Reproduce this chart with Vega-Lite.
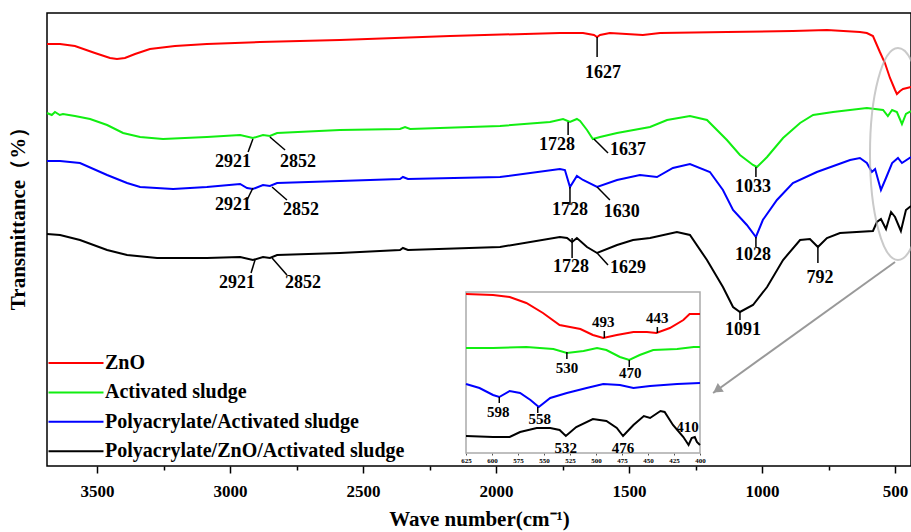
{
  "$schema": "https://vega.github.io/schema/vega-lite/v6.json",
  "width": 864,
  "height": 453,
  "autosize": {"type": "none"},
  "padding": {"left": 47, "top": 13, "right": 0, "bottom": 66},
  "background": "white",
  "config": {
    "view": {"stroke": "#000", "strokeWidth": 1.5},
    "font": "Liberation Serif",
    "axis": {"grid": false}
  },
  "datasets": {
    "spectra": [
      {"s": "ZnO", "w": 3688, "t": 422}, {"s": "ZnO", "w": 3639, "t": 422}, {"s": "ZnO", "w": 3583, "t": 420}, {"s": "ZnO", "w": 3508, "t": 413}, {"s": "ZnO", "w": 3451, "t": 408}, {"s": "ZnO", "w": 3425, "t": 407}, {"s": "ZnO", "w": 3395, "t": 408}, {"s": "ZnO", "w": 3357, "t": 412}, {"s": "ZnO", "w": 3301, "t": 417}, {"s": "ZnO", "w": 3207, "t": 420}, {"s": "ZnO", "w": 3087, "t": 422}, {"s": "ZnO", "w": 2887, "t": 424}, {"s": "ZnO", "w": 2587, "t": 426}, {"s": "ZnO", "w": 2173, "t": 430}, {"s": "ZnO", "w": 1760, "t": 433}, {"s": "ZnO", "w": 1673, "t": 433}, {"s": "ZnO", "w": 1632, "t": 431}, {"s": "ZnO", "w": 1620, "t": 429}, {"s": "ZnO", "w": 1609, "t": 431}, {"s": "ZnO", "w": 1572, "t": 433}, {"s": "ZnO", "w": 1448, "t": 431}, {"s": "ZnO", "w": 1383, "t": 433}, {"s": "ZnO", "w": 1132, "t": 434}, {"s": "ZnO", "w": 884, "t": 435}, {"s": "ZnO", "w": 756, "t": 436}, {"s": "ZnO", "w": 632, "t": 434}, {"s": "ZnO", "w": 606, "t": 433}, {"s": "ZnO", "w": 583, "t": 430}, {"s": "ZnO", "w": 557, "t": 414}, {"s": "ZnO", "w": 538, "t": 403}, {"s": "ZnO", "w": 519, "t": 388}, {"s": "ZnO", "w": 500, "t": 376}, {"s": "ZnO", "w": 493, "t": 372}, {"s": "ZnO", "w": 481, "t": 375}, {"s": "ZnO", "w": 470, "t": 377}, {"s": "ZnO", "w": 455, "t": 378}, {"s": "ZnO", "w": 440, "t": 379},

      {"s": "Activated sludge", "w": 3688, "t": 353}, {"s": "Activated sludge", "w": 3670, "t": 351}, {"s": "Activated sludge", "w": 3658, "t": 354}, {"s": "Activated sludge", "w": 3640, "t": 351}, {"s": "Activated sludge", "w": 3628, "t": 352}, {"s": "Activated sludge", "w": 3583, "t": 350}, {"s": "Activated sludge", "w": 3526, "t": 347}, {"s": "Activated sludge", "w": 3462, "t": 341}, {"s": "Activated sludge", "w": 3402, "t": 333}, {"s": "Activated sludge", "w": 3338, "t": 329}, {"s": "Activated sludge", "w": 3252, "t": 327}, {"s": "Activated sludge", "w": 3087, "t": 329}, {"s": "Activated sludge", "w": 2962, "t": 331}, {"s": "Activated sludge", "w": 2914, "t": 328}, {"s": "Activated sludge", "w": 2876, "t": 331}, {"s": "Activated sludge", "w": 2850, "t": 330}, {"s": "Activated sludge", "w": 2823, "t": 333}, {"s": "Activated sludge", "w": 2587, "t": 336}, {"s": "Activated sludge", "w": 2361, "t": 337}, {"s": "Activated sludge", "w": 2342, "t": 339}, {"s": "Activated sludge", "w": 2323, "t": 337}, {"s": "Activated sludge", "w": 1985, "t": 340}, {"s": "Activated sludge", "w": 1797, "t": 344}, {"s": "Activated sludge", "w": 1748, "t": 347}, {"s": "Activated sludge", "w": 1722, "t": 344}, {"s": "Activated sludge", "w": 1696, "t": 347}, {"s": "Activated sludge", "w": 1684, "t": 345}, {"s": "Activated sludge", "w": 1658, "t": 336}, {"s": "Activated sludge", "w": 1636, "t": 327}, {"s": "Activated sludge", "w": 1609, "t": 329}, {"s": "Activated sludge", "w": 1545, "t": 333}, {"s": "Activated sludge", "w": 1421, "t": 339}, {"s": "Activated sludge", "w": 1357, "t": 346}, {"s": "Activated sludge", "w": 1271, "t": 350}, {"s": "Activated sludge", "w": 1207, "t": 346}, {"s": "Activated sludge", "w": 1132, "t": 326}, {"s": "Activated sludge", "w": 1083, "t": 311}, {"s": "Activated sludge", "w": 1034, "t": 301}, {"s": "Activated sludge", "w": 1019, "t": 299}, {"s": "Activated sludge", "w": 981, "t": 309}, {"s": "Activated sludge", "w": 921, "t": 328}, {"s": "Activated sludge", "w": 857, "t": 343}, {"s": "Activated sludge", "w": 808, "t": 351}, {"s": "Activated sludge", "w": 733, "t": 354}, {"s": "Activated sludge", "w": 606, "t": 358}, {"s": "Activated sludge", "w": 545, "t": 356}, {"s": "Activated sludge", "w": 527, "t": 350}, {"s": "Activated sludge", "w": 511, "t": 356}, {"s": "Activated sludge", "w": 493, "t": 354}, {"s": "Activated sludge", "w": 474, "t": 342}, {"s": "Activated sludge", "w": 459, "t": 352}, {"s": "Activated sludge", "w": 440, "t": 355},

      {"s": "Polyacrylate/Activated sludge", "w": 3688, "t": 305}, {"s": "Polyacrylate/Activated sludge", "w": 3639, "t": 305}, {"s": "Polyacrylate/Activated sludge", "w": 3564, "t": 303}, {"s": "Polyacrylate/Activated sludge", "w": 3462, "t": 291}, {"s": "Polyacrylate/Activated sludge", "w": 3387, "t": 283}, {"s": "Polyacrylate/Activated sludge", "w": 3338, "t": 279}, {"s": "Polyacrylate/Activated sludge", "w": 3214, "t": 277}, {"s": "Polyacrylate/Activated sludge", "w": 3087, "t": 279}, {"s": "Polyacrylate/Activated sludge", "w": 2962, "t": 282}, {"s": "Polyacrylate/Activated sludge", "w": 2936, "t": 278}, {"s": "Polyacrylate/Activated sludge", "w": 2914, "t": 277}, {"s": "Polyacrylate/Activated sludge", "w": 2876, "t": 281}, {"s": "Polyacrylate/Activated sludge", "w": 2850, "t": 280}, {"s": "Polyacrylate/Activated sludge", "w": 2823, "t": 283}, {"s": "Polyacrylate/Activated sludge", "w": 2587, "t": 285}, {"s": "Polyacrylate/Activated sludge", "w": 2361, "t": 287}, {"s": "Polyacrylate/Activated sludge", "w": 2350, "t": 289}, {"s": "Polyacrylate/Activated sludge", "w": 2331, "t": 287}, {"s": "Polyacrylate/Activated sludge", "w": 1985, "t": 289}, {"s": "Polyacrylate/Activated sludge", "w": 1760, "t": 297}, {"s": "Polyacrylate/Activated sludge", "w": 1741, "t": 296}, {"s": "Polyacrylate/Activated sludge", "w": 1722, "t": 279}, {"s": "Polyacrylate/Activated sludge", "w": 1696, "t": 290}, {"s": "Polyacrylate/Activated sludge", "w": 1673, "t": 286}, {"s": "Polyacrylate/Activated sludge", "w": 1620, "t": 279}, {"s": "Polyacrylate/Activated sludge", "w": 1545, "t": 286}, {"s": "Polyacrylate/Activated sludge", "w": 1459, "t": 291}, {"s": "Polyacrylate/Activated sludge", "w": 1395, "t": 289}, {"s": "Polyacrylate/Activated sludge", "w": 1335, "t": 298}, {"s": "Polyacrylate/Activated sludge", "w": 1271, "t": 302}, {"s": "Polyacrylate/Activated sludge", "w": 1196, "t": 294}, {"s": "Polyacrylate/Activated sludge", "w": 1147, "t": 276}, {"s": "Polyacrylate/Activated sludge", "w": 1109, "t": 256}, {"s": "Polyacrylate/Activated sludge", "w": 1057, "t": 241}, {"s": "Polyacrylate/Activated sludge", "w": 1023, "t": 229}, {"s": "Polyacrylate/Activated sludge", "w": 997, "t": 246}, {"s": "Polyacrylate/Activated sludge", "w": 944, "t": 266}, {"s": "Polyacrylate/Activated sludge", "w": 884, "t": 283}, {"s": "Polyacrylate/Activated sludge", "w": 794, "t": 294}, {"s": "Polyacrylate/Activated sludge", "w": 669, "t": 306}, {"s": "Polyacrylate/Activated sludge", "w": 632, "t": 308}, {"s": "Polyacrylate/Activated sludge", "w": 606, "t": 303}, {"s": "Polyacrylate/Activated sludge", "w": 587, "t": 294}, {"s": "Polyacrylate/Activated sludge", "w": 575, "t": 297}, {"s": "Polyacrylate/Activated sludge", "w": 553, "t": 276}, {"s": "Polyacrylate/Activated sludge", "w": 534, "t": 288}, {"s": "Polyacrylate/Activated sludge", "w": 511, "t": 303}, {"s": "Polyacrylate/Activated sludge", "w": 489, "t": 308}, {"s": "Polyacrylate/Activated sludge", "w": 474, "t": 303}, {"s": "Polyacrylate/Activated sludge", "w": 440, "t": 309},

      {"s": "Polyacrylate/ZnO/Activated sludge", "w": 3688, "t": 232}, {"s": "Polyacrylate/ZnO/Activated sludge", "w": 3639, "t": 231}, {"s": "Polyacrylate/ZnO/Activated sludge", "w": 3564, "t": 226}, {"s": "Polyacrylate/ZnO/Activated sludge", "w": 3462, "t": 216}, {"s": "Polyacrylate/ZnO/Activated sludge", "w": 3387, "t": 211}, {"s": "Polyacrylate/ZnO/Activated sludge", "w": 3274, "t": 208}, {"s": "Polyacrylate/ZnO/Activated sludge", "w": 3087, "t": 208}, {"s": "Polyacrylate/ZnO/Activated sludge", "w": 2962, "t": 209}, {"s": "Polyacrylate/ZnO/Activated sludge", "w": 2914, "t": 206}, {"s": "Polyacrylate/ZnO/Activated sludge", "w": 2876, "t": 209}, {"s": "Polyacrylate/ZnO/Activated sludge", "w": 2850, "t": 208}, {"s": "Polyacrylate/ZnO/Activated sludge", "w": 2823, "t": 211}, {"s": "Polyacrylate/ZnO/Activated sludge", "w": 2587, "t": 213}, {"s": "Polyacrylate/ZnO/Activated sludge", "w": 2361, "t": 216}, {"s": "Polyacrylate/ZnO/Activated sludge", "w": 2350, "t": 218}, {"s": "Polyacrylate/ZnO/Activated sludge", "w": 2331, "t": 216}, {"s": "Polyacrylate/ZnO/Activated sludge", "w": 1985, "t": 219}, {"s": "Polyacrylate/ZnO/Activated sludge", "w": 1760, "t": 229}, {"s": "Polyacrylate/ZnO/Activated sludge", "w": 1733, "t": 228}, {"s": "Polyacrylate/ZnO/Activated sludge", "w": 1714, "t": 224}, {"s": "Polyacrylate/ZnO/Activated sludge", "w": 1696, "t": 228}, {"s": "Polyacrylate/ZnO/Activated sludge", "w": 1658, "t": 219}, {"s": "Polyacrylate/ZnO/Activated sludge", "w": 1620, "t": 213}, {"s": "Polyacrylate/ZnO/Activated sludge", "w": 1545, "t": 221}, {"s": "Polyacrylate/ZnO/Activated sludge", "w": 1485, "t": 226}, {"s": "Polyacrylate/ZnO/Activated sludge", "w": 1421, "t": 228}, {"s": "Polyacrylate/ZnO/Activated sludge", "w": 1320, "t": 234}, {"s": "Polyacrylate/ZnO/Activated sludge", "w": 1271, "t": 231}, {"s": "Polyacrylate/ZnO/Activated sludge", "w": 1207, "t": 206}, {"s": "Polyacrylate/ZnO/Activated sludge", "w": 1147, "t": 179}, {"s": "Polyacrylate/ZnO/Activated sludge", "w": 1109, "t": 159}, {"s": "Polyacrylate/ZnO/Activated sludge", "w": 1083, "t": 154}, {"s": "Polyacrylate/ZnO/Activated sludge", "w": 1034, "t": 161}, {"s": "Polyacrylate/ZnO/Activated sludge", "w": 981, "t": 179}, {"s": "Polyacrylate/ZnO/Activated sludge", "w": 921, "t": 206}, {"s": "Polyacrylate/ZnO/Activated sludge", "w": 857, "t": 226}, {"s": "Polyacrylate/ZnO/Activated sludge", "w": 820, "t": 227}, {"s": "Polyacrylate/ZnO/Activated sludge", "w": 790, "t": 219}, {"s": "Polyacrylate/ZnO/Activated sludge", "w": 756, "t": 228}, {"s": "Polyacrylate/ZnO/Activated sludge", "w": 707, "t": 233}, {"s": "Polyacrylate/ZnO/Activated sludge", "w": 583, "t": 235}, {"s": "Polyacrylate/ZnO/Activated sludge", "w": 568, "t": 244}, {"s": "Polyacrylate/ZnO/Activated sludge", "w": 553, "t": 247}, {"s": "Polyacrylate/ZnO/Activated sludge", "w": 534, "t": 237}, {"s": "Polyacrylate/ZnO/Activated sludge", "w": 515, "t": 254}, {"s": "Polyacrylate/ZnO/Activated sludge", "w": 500, "t": 249}, {"s": "Polyacrylate/ZnO/Activated sludge", "w": 478, "t": 235}, {"s": "Polyacrylate/ZnO/Activated sludge", "w": 459, "t": 256}, {"s": "Polyacrylate/ZnO/Activated sludge", "w": 440, "t": 260}
    ],
    "ticks": [
      {"w": 1620, "t": 429, "w2": 1620, "t2": 409},
      {"w": 2914, "t": 327, "w2": 2932, "t2": 314},
      {"w": 2850, "t": 329, "w2": 2793, "t2": 316},
      {"w": 2914, "t": 278, "w2": 2936, "t2": 266},
      {"w": 2842, "t": 279, "w2": 2786, "t2": 266},
      {"w": 2906, "t": 206, "w2": 2921, "t2": 193},
      {"w": 2842, "t": 208, "w2": 2786, "t2": 191},
      {"w": 1729, "t": 344, "w2": 1729, "t2": 331},
      {"w": 1632, "t": 327, "w2": 1579, "t2": 313},
      {"w": 1722, "t": 279, "w2": 1722, "t2": 261},
      {"w": 1620, "t": 279, "w2": 1572, "t2": 266},
      {"w": 1714, "t": 228, "w2": 1714, "t2": 208},
      {"w": 1620, "t": 213, "w2": 1579, "t2": 201},
      {"w": 1023, "t": 299, "w2": 1023, "t2": 289},
      {"w": 1023, "t": 229, "w2": 1023, "t2": 219},
      {"w": 790, "t": 219, "w2": 790, "t2": 203},
      {"w": 1083, "t": 154, "w2": 1083, "t2": 146}
    ],
    "labels": [
      {"w": 1598, "t": 393, "label": "1627"},
      {"w": 2989, "t": 304, "label": "2921"},
      {"w": 2744, "t": 304, "label": "2852"},
      {"w": 2989, "t": 261, "label": "2921"},
      {"w": 2733, "t": 256, "label": "2852"},
      {"w": 2974, "t": 183, "label": "2921"},
      {"w": 2726, "t": 183, "label": "2852"},
      {"w": 1771, "t": 321, "label": "1728"},
      {"w": 1504, "t": 316, "label": "1637"},
      {"w": 1722, "t": 256, "label": "1728"},
      {"w": 1527, "t": 254, "label": "1630"},
      {"w": 1718, "t": 199, "label": "1728"},
      {"w": 1504, "t": 198, "label": "1629"},
      {"w": 1034, "t": 279, "label": "1033"},
      {"w": 1034, "t": 211, "label": "1028"},
      {"w": 782, "t": 188, "label": "792"},
      {"w": 1072, "t": 136, "label": "1091"}
    ],
    "ellipse": [{"w": 489, "t": 312}],
    "arrow": [{"w": 500, "t": 204, "w2": 1184, "t2": 73}],
    "arrowhead": [{"w": 1169, "t": 76}],
    "inset": [
      {"s": "ZnO", "w": 625, "t": 172}, {"s": "ZnO", "w": 599, "t": 171}, {"s": "ZnO", "w": 583, "t": 169}, {"s": "ZnO", "w": 567, "t": 163}, {"s": "ZnO", "w": 551, "t": 153}, {"s": "ZnO", "w": 535, "t": 141}, {"s": "ZnO", "w": 525, "t": 139}, {"s": "ZnO", "w": 515, "t": 137}, {"s": "ZnO", "w": 503, "t": 131}, {"s": "ZnO", "w": 493, "t": 128}, {"s": "ZnO", "w": 480, "t": 131}, {"s": "ZnO", "w": 464, "t": 134}, {"s": "ZnO", "w": 451, "t": 134}, {"s": "ZnO", "w": 442, "t": 133}, {"s": "ZnO", "w": 429, "t": 138}, {"s": "ZnO", "w": 416, "t": 146}, {"s": "ZnO", "w": 410, "t": 152}, {"s": "ZnO", "w": 400, "t": 152},
      {"s": "Activated sludge", "w": 625, "t": 118}, {"s": "Activated sludge", "w": 599, "t": 118}, {"s": "Activated sludge", "w": 567, "t": 119}, {"s": "Activated sludge", "w": 541, "t": 117}, {"s": "Activated sludge", "w": 528, "t": 113}, {"s": "Activated sludge", "w": 512, "t": 115}, {"s": "Activated sludge", "w": 499, "t": 118}, {"s": "Activated sludge", "w": 490, "t": 116}, {"s": "Activated sludge", "w": 477, "t": 109}, {"s": "Activated sludge", "w": 468, "t": 106}, {"s": "Activated sludge", "w": 458, "t": 111}, {"s": "Activated sludge", "w": 445, "t": 116}, {"s": "Activated sludge", "w": 422, "t": 117}, {"s": "Activated sludge", "w": 406, "t": 119}, {"s": "Activated sludge", "w": 400, "t": 119},
      {"s": "Polyacrylate/Activated sludge", "w": 625, "t": 82}, {"s": "Polyacrylate/Activated sludge", "w": 612, "t": 78}, {"s": "Polyacrylate/Activated sludge", "w": 599, "t": 71}, {"s": "Polyacrylate/Activated sludge", "w": 593, "t": 69}, {"s": "Polyacrylate/Activated sludge", "w": 583, "t": 75}, {"s": "Polyacrylate/Activated sludge", "w": 573, "t": 73}, {"s": "Polyacrylate/Activated sludge", "w": 563, "t": 66}, {"s": "Polyacrylate/Activated sludge", "w": 555, "t": 59}, {"s": "Polyacrylate/Activated sludge", "w": 544, "t": 68}, {"s": "Polyacrylate/Activated sludge", "w": 528, "t": 73}, {"s": "Polyacrylate/Activated sludge", "w": 509, "t": 78}, {"s": "Polyacrylate/Activated sludge", "w": 493, "t": 82}, {"s": "Polyacrylate/Activated sludge", "w": 477, "t": 81}, {"s": "Polyacrylate/Activated sludge", "w": 464, "t": 78}, {"s": "Polyacrylate/Activated sludge", "w": 448, "t": 80}, {"s": "Polyacrylate/Activated sludge", "w": 422, "t": 82}, {"s": "Polyacrylate/Activated sludge", "w": 400, "t": 83},
      {"s": "Polyacrylate/ZnO/Activated sludge", "w": 625, "t": 30}, {"s": "Polyacrylate/ZnO/Activated sludge", "w": 599, "t": 29}, {"s": "Polyacrylate/ZnO/Activated sludge", "w": 583, "t": 29}, {"s": "Polyacrylate/ZnO/Activated sludge", "w": 573, "t": 34}, {"s": "Polyacrylate/ZnO/Activated sludge", "w": 557, "t": 38}, {"s": "Polyacrylate/ZnO/Activated sludge", "w": 544, "t": 38}, {"s": "Polyacrylate/ZnO/Activated sludge", "w": 535, "t": 36}, {"s": "Polyacrylate/ZnO/Activated sludge", "w": 529, "t": 30}, {"s": "Polyacrylate/ZnO/Activated sludge", "w": 519, "t": 39}, {"s": "Polyacrylate/ZnO/Activated sludge", "w": 503, "t": 47}, {"s": "Polyacrylate/ZnO/Activated sludge", "w": 490, "t": 45}, {"s": "Polyacrylate/ZnO/Activated sludge", "w": 480, "t": 38}, {"s": "Polyacrylate/ZnO/Activated sludge", "w": 474, "t": 30}, {"s": "Polyacrylate/ZnO/Activated sludge", "w": 464, "t": 41}, {"s": "Polyacrylate/ZnO/Activated sludge", "w": 454, "t": 50}, {"s": "Polyacrylate/ZnO/Activated sludge", "w": 448, "t": 48}, {"s": "Polyacrylate/ZnO/Activated sludge", "w": 438, "t": 55}, {"s": "Polyacrylate/ZnO/Activated sludge", "w": 434, "t": 54}, {"s": "Polyacrylate/ZnO/Activated sludge", "w": 426, "t": 41}, {"s": "Polyacrylate/ZnO/Activated sludge", "w": 416, "t": 29}, {"s": "Polyacrylate/ZnO/Activated sludge", "w": 411, "t": 21}, {"s": "Polyacrylate/ZnO/Activated sludge", "w": 408, "t": 28}, {"s": "Polyacrylate/ZnO/Activated sludge", "w": 405, "t": 29}, {"s": "Polyacrylate/ZnO/Activated sludge", "w": 403, "t": 24}, {"s": "Polyacrylate/ZnO/Activated sludge", "w": 400, "t": 21}
    ],
    "insetFrame": [{"w": 400, "w2": 625, "t": 13, "t2": 174}],
    "insetTicks": [
      {"w": 492, "t": 135, "w2": 492, "t2": 128},
      {"w": 441, "t": 139, "w2": 441, "t2": 133},
      {"w": 528, "t": 114, "w2": 528, "t2": 107},
      {"w": 468, "t": 106, "w2": 468, "t2": 99},
      {"w": 593, "t": 69, "w2": 593, "t2": 63},
      {"w": 556, "t": 59, "w2": 556, "t2": 53}
    ],
    "insetLabels": [
      {"w": 493, "t": 144, "label": "493"},
      {"w": 441, "t": 148, "label": "443"},
      {"w": 528, "t": 98, "label": "530"},
      {"w": 467, "t": 93, "label": "470"},
      {"w": 594, "t": 54, "label": "598"},
      {"w": 554, "t": 47, "label": "558"},
      {"w": 529, "t": 18, "label": "532"},
      {"w": 474, "t": 18, "label": "476"},
      {"w": 412, "t": 39, "label": "410"}
    ]
  },
  "layer": [
    {
      "encoding": {
        "x": {
          "field": "w", "type": "quantitative",
          "scale": {"domain": [440, 3688], "reverse": true, "nice": false, "zero": false},
          "axis": {
            "values": [500, 750, 1000, 1250, 1500, 1750, 2000, 2250, 2500, 2750, 3000, 3250, 3500],
            "format": "d",
            "labelExpr": "datum.value % 500 === 0 ? datum.label : ''",
            "tickSize": {"condition": {"test": "datum.value % 500 === 0", "value": 7}, "value": 4},
            "tickColor": "#000", "tickWidth": 1.5, "domain": false,
            "labelFont": "Liberation Serif", "labelFontWeight": "bold", "labelFontSize": 17, "labelColor": "#000",
            "labelPadding": 10, "labelOverlap": false, "labelFlush": false,
            "title": "Wave number(cm⁻¹)", "titleFont": "Liberation Serif", "titleFontSize": 21,
            "titleFontWeight": "bold", "titleColor": "#000", "titlePadding": 9
          }
        },
        "y": {
          "field": "t", "type": "quantitative",
          "scale": {"domain": [0, 453], "nice": false, "zero": false},
          "axis": {
            "title": "Transmittance（%）", "labels": false, "ticks": false, "domain": false,
            "titleFont": "Liberation Serif", "titleFontSize": 21, "titleFontWeight": "bold", "titleColor": "#000",
            "titleX": -29, "titleY": 200, "titleAngle": -90, "titleAlign": "center", "titleBaseline": "middle"
          }
        }
      },
      "layer": [
        {
          "data": {"name": "spectra"},
          "mark": {"type": "line", "strokeWidth": 2},
          "encoding": {
            "color": {
              "field": "s", "type": "nominal",
              "scale": {
                "domain": ["ZnO", "Activated sludge", "Polyacrylate/Activated sludge", "Polyacrylate/ZnO/Activated sludge"],
                "range": ["#ff0000", "#11ee11", "#0000ff", "#000000"]
              },
              "legend": {
                "orient": "none", "legendX": 18, "legendY": 339, "title": null,
                "symbolType": "M-2.75,0H2.75", "symbolSize": 400, "symbolStrokeWidth": 2, "symbolFillColor": "transparent",
                "labelFont": "Liberation Serif", "labelFontWeight": "bold", "labelFontSize": 20, "labelColor": "#000",
                "labelOffset": 18, "rowPadding": 8.4, "padding": 0, "labelLimit": 400
              }
            }
          }
        },
        {
          "data": {"name": "ticks"},
          "mark": {"type": "rule", "color": "#000", "strokeWidth": 1.5},
          "encoding": {"x2": {"field": "w2"}, "y2": {"field": "t2"}}
        },
        {
          "data": {"name": "labels"},
          "mark": {"type": "text", "font": "Liberation Serif", "fontWeight": "bold", "fontSize": 18, "color": "#000", "align": "center", "baseline": "middle"},
          "encoding": {"text": {"field": "label"}}
        },
        {
          "data": {"name": "ellipse"},
          "mark": {
            "type": "point", "filled": false, "stroke": "#b4b4b4", "strokeWidth": 2, "size": 44944,
            "shape": "M0,-1C0.146,-1,0.264,-0.552,0.264,0C0.264,0.552,0.146,1,0,1C-0.146,1,-0.264,0.552,-0.264,0C-0.264,-0.552,-0.146,-1,0,-1Z"
          },
          "encoding": {}
        },
        {
          "data": {"name": "arrow"},
          "mark": {"type": "rule", "color": "#999999", "strokeWidth": 2},
          "encoding": {"x2": {"field": "w2"}, "y2": {"field": "t2"}}
        },
        {
          "data": {"name": "arrowhead"},
          "mark": {"type": "point", "shape": "triangle-up", "filled": true, "color": "#999999", "size": 110, "angle": 235, "opacity": 1},
          "encoding": {}
        }
      ]
    },
    {
      "encoding": {
        "x": {
          "field": "w", "type": "quantitative",
          "scale": {"domain": [400, 625], "reverse": true, "nice": false, "zero": false, "range": [419, 653]},
          "axis": {
            "orient": "bottom", "offset": -13,
            "values": [400, 425, 450, 475, 500, 525, 550, 575, 600, 625],
            "format": "d", "domain": false, "tickSize": 2, "tickColor": "#555",
            "labelFont": "Liberation Serif", "labelFontWeight": "bold", "labelFontSize": 7, "labelColor": "#000",
            "labelPadding": 1, "labelOverlap": false, "labelFlush": false, "title": null
          }
        },
        "y": {
          "field": "t", "type": "quantitative",
          "axis": {
            "title": "Transmittance（%）", "labels": false, "ticks": false, "domain": false,
            "titleFont": "Liberation Serif", "titleFontSize": 21, "titleFontWeight": "bold", "titleColor": "#000",
            "titleX": -29, "titleY": 200, "titleAngle": -90, "titleAlign": "center", "titleBaseline": "middle"
          }
        }
      },
      "layer": [
        {
          "data": {"name": "insetFrame"},
          "mark": {"type": "rect", "fill": "white", "stroke": "#aaaaaa", "strokeWidth": 1.5},
          "encoding": {"x2": {"field": "w2"}, "y2": {"field": "t2"}}
        },
        {
          "data": {"name": "inset"},
          "mark": {"type": "line", "strokeWidth": 2},
          "encoding": {"color": {"field": "s", "type": "nominal", "legend": null}}
        },
        {
          "data": {"name": "insetTicks"},
          "mark": {"type": "rule", "color": "#000", "strokeWidth": 1.5},
          "encoding": {"x2": {"field": "w2"}, "y2": {"field": "t2"}}
        },
        {
          "data": {"name": "insetLabels"},
          "mark": {"type": "text", "font": "Liberation Serif", "fontWeight": "bold", "fontSize": 15, "color": "#000", "align": "center", "baseline": "middle"},
          "encoding": {"text": {"field": "label"}}
        }
      ]
    }
  ],
  "resolve": {"scale": {"x": "independent"}, "axis": {"x": "independent"}}
}
